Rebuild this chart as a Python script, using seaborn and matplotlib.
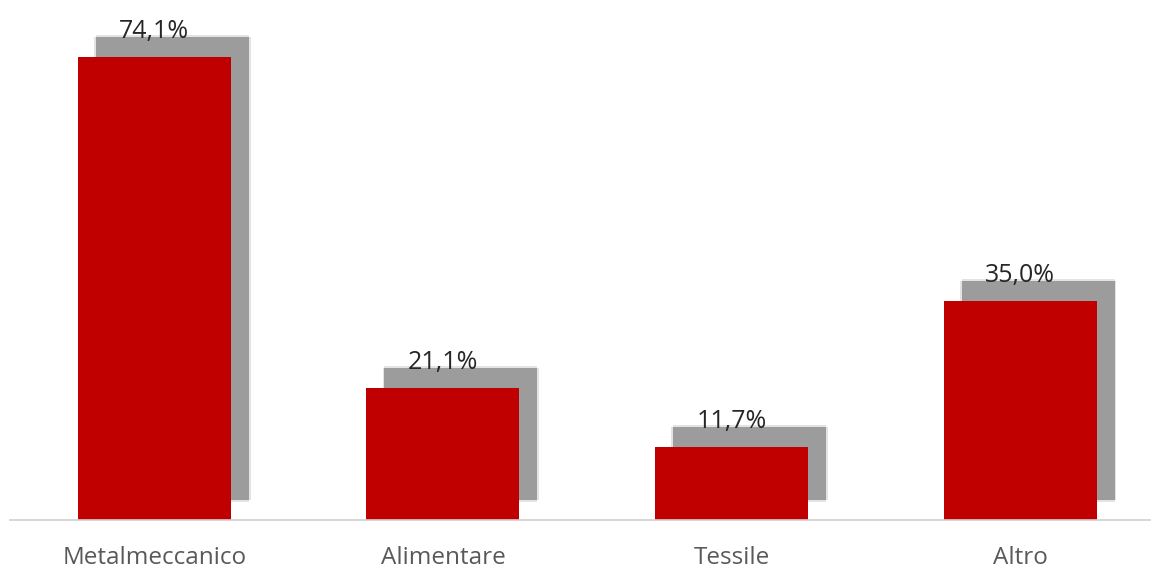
import pandas as pd
import seaborn as sns
import matplotlib.pyplot as plt
import matplotlib.patheffects as pe

categories = ['Metalmeccanico', 'Alimentare', 'Tessile', 'Altro']
values = [74.1, 21.1, 11.7, 35.0]

df = pd.DataFrame({'settore': categories, 'quota': values})

sns.set_theme(style='white')
plt.rcParams['font.family'] = ['Open Sans', 'DejaVu Sans']

fig = plt.figure(figsize=(11.53, 5.70), dpi=100)
ax = fig.add_axes([10 / 1153, 50 / 570, 1140 / 1153, 520 / 570])

sns.barplot(x='settore', y='quota', data=df, color='#C00000', width=0.53,
            saturation=1, linewidth=0, ax=ax)

# soft drop shadow offset up-right, like the Excel chart
shadow = []
for dx, dy in [(1.2, 0), (-1.2, 0), (0, 1.2), (0, -1.2)]:
    shadow.append(pe.SimplePatchShadow(offset=(13 + dx, 14.5 + dy),
                                       shadow_rgbFace='#b0b0b0', alpha=0.35))
shadow.append(pe.SimplePatchShadow(offset=(13, 14.5), shadow_rgbFace='#9c9c9c', alpha=1))
for bar in ax.patches:
    bar.set_path_effects(shadow + [pe.Normal()])

for bar, v in zip(ax.patches, values):
    ax.annotate(f'{v:.1f}%'.replace('.', ','),
                (bar.get_x() + bar.get_width() / 2, bar.get_height()),
                xytext=(0, 9.5), textcoords='offset points',
                ha='center', va='bottom', fontsize=18, color='#262626')

ax.set_xlim(-0.5, 3.45)
ax.set_ylim(0, 83.2)
ax.set_xlabel('')
ax.set_ylabel('')
ax.set_yticks([])
for side in ['top', 'right', 'left']:
    ax.spines[side].set_visible(False)
ax.spines['bottom'].set_color('#d0d0d0')
ax.spines['bottom'].set_linewidth(1.2)
ax.tick_params(axis='x', length=0, pad=19, labelsize=17.5, labelcolor='#595959')

fig.savefig('out.png', dpi=100)
